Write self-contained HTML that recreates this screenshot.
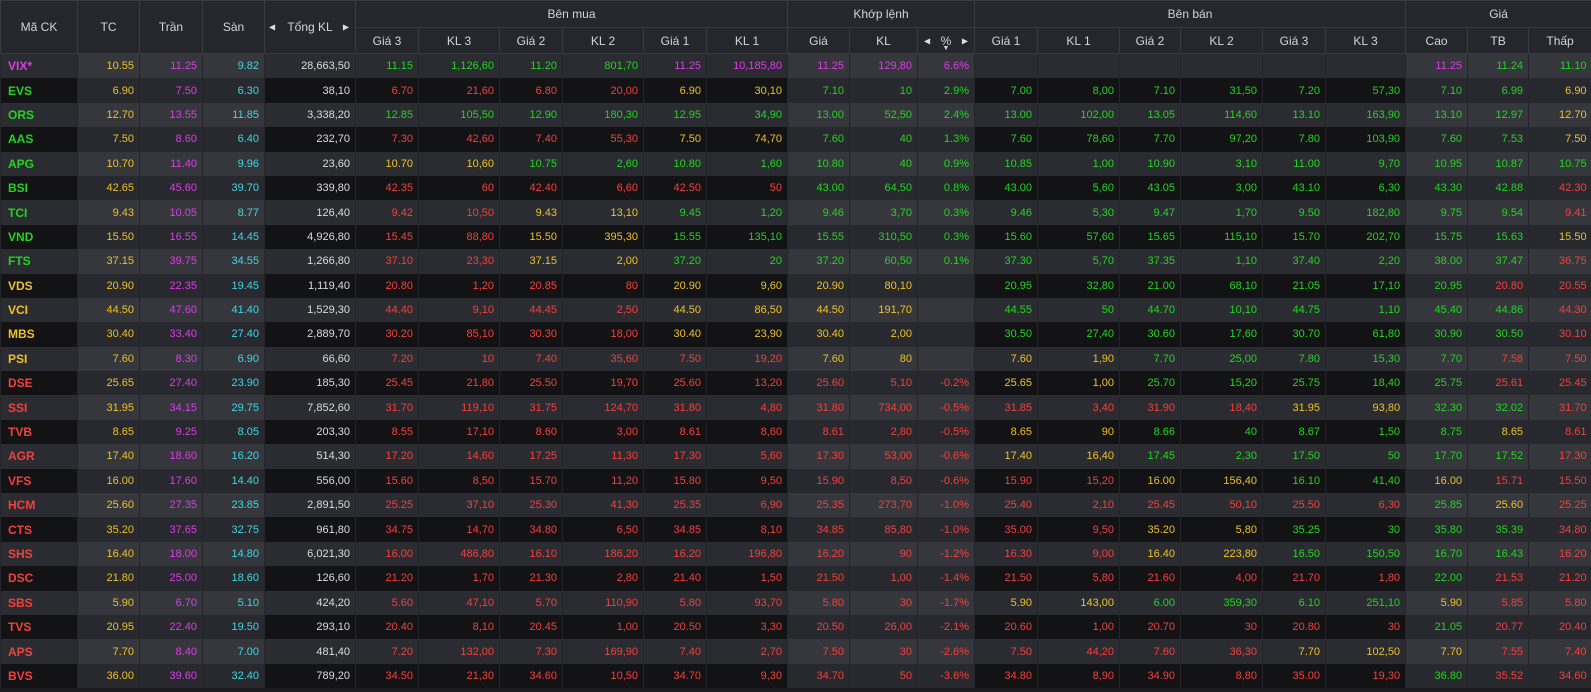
<!DOCTYPE html>
<html><head><meta charset="utf-8">
<style>
html,body{margin:0;padding:0;background:#1c1c20;width:1591px;height:692px;overflow:hidden}
table{border-collapse:collapse;table-layout:fixed;width:1591px;font-family:"Liberation Sans",Tahoma,sans-serif;font-size:11px}
th{background:#26272c;color:#d4d4d8;font-weight:normal;border:1px solid #3a3b42;padding:0;text-align:center;position:relative;font-size:12px}
thead tr.r1 th{height:26px}
thead tr.r2 th{height:25px}
td{height:24.4px;padding:0 5px 0 0;text-align:right;border-left:1px solid #24252a;white-space:nowrap;overflow:hidden}
tr.odd td{background:#2b2c31}
tr.even td{background:#131315}
tr.odd td.hl{background:#36373d}
tr.even td.hl{background:#28292e}
td.sym{text-align:left;padding-left:7px;font-weight:bold;font-size:12px}
.arr{font-size:8px;color:#ddd;position:absolute;top:50%;transform:translateY(-50%)}
.g{color:#22d420}.r{color:#f2403c}.y{color:#ecc128}.p{color:#dc3ce6}.c{color:#3fd6e0}.w{color:#dcdcdc}
</style></head><body>
<table>
<colgroup>
<col style="width:77px"><col style="width:62px"><col style="width:63px"><col style="width:62px"><col style="width:91px">
<col style="width:63px"><col style="width:81px"><col style="width:63px"><col style="width:81px"><col style="width:63px"><col style="width:81px">
<col style="width:62px"><col style="width:68px"><col style="width:57px">
<col style="width:63px"><col style="width:82px"><col style="width:61px"><col style="width:82px"><col style="width:63px"><col style="width:80px">
<col style="width:62px"><col style="width:61px"><col style="width:63px">
</colgroup>
<thead>
<tr class="r1">
<th rowspan="2">Mã CK</th>
<th rowspan="2">TC</th>
<th rowspan="2">Trần</th>
<th rowspan="2">Sàn</th>
<th rowspan="2"><span class="arr" style="left:4px">◀</span>Tổng KL<span class="arr" style="right:6px">▶</span></th>
<th colspan="6">Bên mua</th>
<th colspan="3">Khớp lệnh</th>
<th colspan="6">Bên bán</th>
<th colspan="3">Giá</th>
</tr>
<tr class="r2">
<th>Giá 3</th><th>KL 3</th>
<th>Giá 2</th><th>KL 2</th>
<th>Giá 1</th><th>KL 1</th>
<th>Giá</th><th>KL</th>
<th><span class="arr" style="left:6px">◀</span>%<span style="position:absolute;left:50%;bottom:1px;transform:translateX(-50%);font-size:7px">▼</span><span class="arr" style="right:6px">▶</span></th>
<th>Giá 1</th><th>KL 1</th>
<th>Giá 2</th><th>KL 2</th>
<th>Giá 3</th><th>KL 3</th>
<th>Cao</th><th>TB</th><th>Thấp</th>
</tr>
</thead>
<tbody id="tb"></tbody>
</table>
<script>
const symbols=["VIX*","EVS","ORS","AAS","APG","BSI","TCI","VND","FTS","VDS","VCI","MBS","PSI","DSE","SSI","TVB","AGR","VFS","HCM","CTS","SHS","DSC","SBS","TVS","APS","BVS"];
const refPrices=["10.55","6.90","12.70","7.50","10.70","42.65","9.43","15.50","37.15","20.90","44.50","30.40","7.60","25.65","31.95","8.65","17.40","16.00","25.60","35.20","16.40","21.80","5.90","20.95","7.70","36.00"];
const ceilPrices=["11.25","7.50","13.55","8.60","11.40","45.60","10.05","16.55","39.75","22.35","47.60","33.40","8.30","27.40","34.15","9.25","18.60","17.60","27.35","37.65","18.00","25.00","6.70","22.40","8.40","39.60"];
const floorPrices=["9.82","6.30","11.85","6.40","9.96","39.70","8.77","14.45","34.55","19.45","41.40","27.40","6.90","23.90","29.75","8.05","16.20","14.40","23.85","32.75","14.80","18.60","5.10","19.50","7.00","32.40"];
const totalVolumes=["28,663,50","38,10","3,338,20","232,70","23,60","339,80","126,40","4,926,80","1,266,80","1,119,40","1,529,30","2,889,70","66,60","185,30","7,852,60","203,30","514,30","556,00","2,891,50","961,80","6,021,30","126,60","424,20","293,10","481,40","789,20"];
const bids=[
["11.15","1,126,60","11.20","801,70","11.25","10,185,80"],["6.70","21,60","6.80","20,00","6.90","30,10"],["12.85","105,50","12.90","180,30","12.95","34,90"],["7.30","42,60","7.40","55,30","7.50","74,70"],["10.70","10,60","10.75","2,60","10.80","1,60"],["42.35","60","42.40","6,60","42.50","50"],["9.42","10,50","9.43","13,10","9.45","1,20"],["15.45","88,80","15.50","395,30","15.55","135,10"],["37.10","23,30","37.15","2,00","37.20","20"],["20.80","1,20","20.85","80","20.90","9,60"],["44.40","9,10","44.45","2,50","44.50","86,50"],["30.20","85,10","30.30","18,00","30.40","23,90"],["7.20","10","7.40","35,60","7.50","19,20"],["25.45","21,80","25.50","19,70","25.60","13,20"],["31.70","119,10","31.75","124,70","31.80","4,80"],["8.55","17,10","8.60","3,00","8.61","8,60"],["17.20","14,60","17.25","11,30","17.30","5,60"],["15.60","8,50","15.70","11,20","15.80","9,50"],["25.25","37,10","25.30","41,30","25.35","6,90"],["34.75","14,70","34.80","6,50","34.85","8,10"],["16.00","486,80","16.10","186,20","16.20","196,80"],["21.20","1,70","21.30","2,80","21.40","1,50"],["5.60","47,10","5.70","110,90","5.80","93,70"],["20.40","8,10","20.45","1,00","20.50","3,30"],["7.20","132,00","7.30","169,90","7.40","2,70"],["34.50","21,30","34.60","10,50","34.70","9,30"]];
const matchPrices=["11.25","7.10","13.00","7.60","10.80","43.00","9.46","15.55","37.20","20.90","44.50","30.40","7.60","25.60","31.80","8.61","17.30","15.90","25.35","34.85","16.20","21.50","5.80","20.50","7.50","34.70"];
const matchVolumes=["129,80","10","52,50","40","40","64,50","3,70","310,50","60,50","80,10","191,70","2,00","80","5,10","734,00","2,80","53,00","8,50","273,70","85,80","90","1,00","30","26,00","30","50"];
const changePercents=["6.6%","2.9%","2.4%","1.3%","0.9%","0.8%","0.3%","0.3%","0.1%","","","","","-0.2%","-0.5%","-0.5%","-0.6%","-0.6%","-1.0%","-1.0%","-1.2%","-1.4%","-1.7%","-2.1%","-2.6%","-3.6%"];
const asks=[
["","","","","",""],["7.00","8,00","7.10","31,50","7.20","57,30"],["13.00","102,00","13.05","114,60","13.10","163,90"],["7.60","78,60","7.70","97,20","7.80","103,90"],["10.85","1,00","10.90","3,10","11.00","9,70"],["43.00","5,60","43.05","3,00","43.10","6,30"],["9.46","5,30","9.47","1,70","9.50","182,80"],["15.60","57,60","15.65","115,10","15.70","202,70"],["37.30","5,70","37.35","1,10","37.40","2,20"],["20.95","32,80","21.00","68,10","21.05","17,10"],["44.55","50","44.70","10,10","44.75","1,10"],["30.50","27,40","30.60","17,60","30.70","61,80"],["7.60","1,90","7.70","25,00","7.80","15,30"],["25.65","1,00","25.70","15,20","25.75","18,40"],["31.85","3,40","31.90","18,40","31.95","93,80"],["8.65","90","8.66","40","8.67","1,50"],["17.40","16,40","17.45","2,30","17.50","50"],["15.90","15,20","16.00","156,40","16.10","41,40"],["25.40","2,10","25.45","50,10","25.50","6,30"],["35.00","9,50","35.20","5,80","35.25","30"],["16.30","9,00","16.40","223,80","16.50","150,50"],["21.50","5,80","21.60","4,00","21.70","1,80"],["5.90","143,00","6.00","359,30","6.10","251,10"],["20.60","1,00","20.70","30","20.80","30"],["7.50","44,20","7.60","36,30","7.70","102,50"],["34.80","8,90","34.90","8,80","35.00","19,30"]];
const highPrices=["11.25","7.10","13.10","7.60","10.95","43.30","9.75","15.75","38.00","20.95","45.40","30.90","7.70","25.75","32.30","8.75","17.70","16.00","25.85","35.80","16.70","22.00","5.90","21.05","7.70","36.80"];
const avgPrices=["11.24","6.99","12.97","7.53","10.87","42.88","9.54","15.63","37.47","20.80","44.86","30.50","7.58","25.61","32.02","8.65","17.52","15.71","25.60","35.39","16.43","21.53","5.85","20.77","7.55","35.52"];
const lowPrices=["11.10","6.90","12.70","7.50","10.75","42.30","9.41","15.50","36.75","20.55","44.30","30.10","7.50","25.45","31.70","8.61","17.30","15.50","25.25","34.80","16.20","21.20","5.80","20.40","7.40","34.60"];

function colorOf(v,i){
  if(v==="")return "w";
  const x=parseFloat(v),tc=parseFloat(refPrices[i]),ce=parseFloat(ceilPrices[i]),fl=parseFloat(floorPrices[i]);
  if(x>=ce)return "p"; if(x<=fl)return "c"; if(x===tc)return "y"; return x>tc?"g":"r";
}
const tb=document.getElementById('tb');
function cell(tr,text,cls,name,hl){
  const td=document.createElement('td');
  td.textContent=text;
  td.className=cls+(hl?" hl":"");
  
  
  tr.appendChild(td);
}
symbols.forEach((s,i)=>{
  const tr=document.createElement('tr');
  tr.className=i%2===0?"odd":"even";
  
  
  const mc=colorOf(matchPrices[i],i);
  cell(tr,s,"sym "+mc,"symbol",false);
  cell(tr,refPrices[i],"y","reference-price",true);
  cell(tr,ceilPrices[i],"p","ceiling-price",true);
  cell(tr,floorPrices[i],"c","floor-price",true);
  cell(tr,totalVolumes[i],"w","total-volume",false);
  const b=bids[i];
  for(let k=0;k<3;k++){
    const c=colorOf(b[k*2],i);
    cell(tr,b[k*2],c,"bid-price-"+(3-k),false);
    cell(tr,b[k*2+1],c,"bid-volume-"+(3-k),false);
  }
  cell(tr,matchPrices[i],mc,"match-price",true);
  cell(tr,matchVolumes[i],mc,"match-volume",true);
  cell(tr,changePercents[i],mc,"change-percent",true);
  const a=asks[i];
  for(let k=0;k<3;k++){
    const c=colorOf(a[k*2],i);
    cell(tr,a[k*2],c,"ask-price-"+(k+1),false);
    cell(tr,a[k*2+1],c,"ask-volume-"+(k+1),false);
  }
  cell(tr,highPrices[i],colorOf(highPrices[i],i),"high-price",true);
  cell(tr,avgPrices[i],colorOf(avgPrices[i],i),"average-price",true);
  cell(tr,lowPrices[i],colorOf(lowPrices[i],i),"low-price",true);
  tb.appendChild(tr);
});
</script>
</body></html>
